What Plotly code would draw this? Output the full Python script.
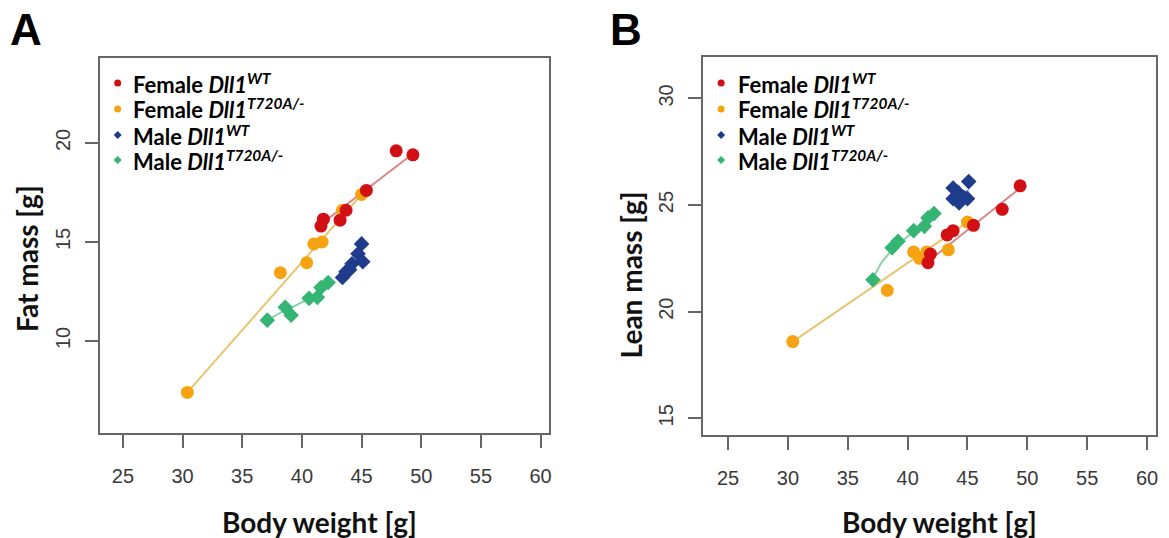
import plotly.graph_objects as go

W, H = 1169, 538

# ---------------- data ----------------
# Panel A: Fat mass vs body weight
fw_bw_A = [41.8, 41.6, 43.2, 43.7, 45.4, 47.9, 49.3]
fw_fat = [16.15, 15.8, 16.1, 16.6, 17.6, 19.6, 19.4]
ft_bw_A = [30.4, 38.2, 40.4, 41.0, 41.7, 43.4, 45.0]
ft_fat = [7.4, 13.45, 13.95, 14.9, 15.0, 16.6, 17.4]
mw_bw_A = [45.0, 44.7, 45.1, 44.2, 43.7, 43.4, 44.0]
mw_fat = [14.9, 14.4, 14.0, 13.9, 13.5, 13.2, 13.6]
mt_bw_A = [37.1, 38.6, 39.1, 40.6, 41.3, 41.6, 42.2]
mt_fat = [11.05, 11.7, 11.3, 12.15, 12.2, 12.7, 12.95]

# smoothed lines (vertices)
fw_fit_x_A = [41.6, 49.3]; fw_fit_y_A = [15.9, 19.45]
ft_fit_x_A = [30.4, 45.0]; ft_fit_y_A = [7.4, 17.4]
mw_fit_x_A = [43.4, 44.2, 45.1]; mw_fit_y_A = [13.2, 13.75, 14.5]
mt_fit_x_A = [37.1, 38.6, 39.5, 40.6, 41.5, 42.2]
mt_fit_y_A = [11.05, 11.55, 11.8, 12.15, 12.5, 12.9]

# Panel B: Lean mass vs body weight
fw_bw_B = [41.7, 41.9, 43.3, 43.8, 45.5, 47.9, 49.4]
fw_lean = [22.3, 22.7, 23.6, 23.8, 24.05, 24.8, 25.9]
ft_bw_B = [30.4, 38.3, 40.5, 41.0, 41.6, 43.4, 45.0]
ft_lean = [18.6, 21.0, 22.8, 22.5, 22.8, 22.9, 24.2]
mw_bw_B = [45.1, 43.8, 44.2, 44.7, 43.8, 44.3, 45.0]
mw_lean = [26.1, 25.8, 25.6, 25.35, 25.3, 25.1, 25.3]
mt_bw_B = [37.1, 38.7, 39.2, 40.5, 41.4, 41.7, 42.2]
mt_lean = [21.5, 23.0, 23.3, 23.8, 24.0, 24.4, 24.6]

fw_fit_x_B = [41.7, 49.4]; fw_fit_y_B = [22.35, 25.8]
ft_fit_x_B = [30.4, 45.0]; ft_fit_y_B = [18.6, 24.2]
mw_fit_x_B = [43.8, 45.1]; mw_fit_y_B = [25.3, 25.7]
mt_fit_x_B = [37.1, 37.8, 38.7, 39.5, 40.5, 41.4, 42.2]
mt_fit_y_B = [21.55, 22.3, 22.9, 23.3, 23.75, 24.1, 24.5]

x_ticks = [25, 30, 35, 40, 45, 50, 55, 60]
y_ticks_A = [10, 15, 20]
y_ticks_B = [15, 20, 25, 30]

group_names = [
    "<b>Female <i>Dll1</i><sup><i>WT</i></sup></b>",
    "<b>Female <i>Dll1</i><sup><i>T720A/-</i></sup></b>",
    "<b>Male <i>Dll1</i><sup><i>WT</i></sup></b>",
    "<b>Male <i>Dll1</i><sup><i>T720A/-</i></sup></b>",
]
marker_colors = ["#d10f14", "#f5a311", "#1f3c8c", "#35b574"]
line_colors = ["#d58a8a", "#e6c56e", "#8d9cc8", "#8ad3a8"]
symbols = ["circle", "circle", "diamond", "diamond"]


def px(x):
    return x / W


def py(y):
    return 1 - y / H


fig = go.Figure()

panels = [
    ("x", "y",
     [(fw_bw_A, fw_fat), (ft_bw_A, ft_fat), (mw_bw_A, mw_fat), (mt_bw_A, mt_fat)],
     [(fw_fit_x_A, fw_fit_y_A), (ft_fit_x_A, ft_fit_y_A), (mw_fit_x_A, mw_fit_y_A), (mt_fit_x_A, mt_fit_y_A)]),
    ("x2", "y2",
     [(fw_bw_B, fw_lean), (ft_bw_B, ft_lean), (mw_bw_B, mw_lean), (mt_bw_B, mt_lean)],
     [(fw_fit_x_B, fw_fit_y_B), (ft_fit_x_B, ft_fit_y_B), (mw_fit_x_B, mw_fit_y_B), (mt_fit_x_B, mt_fit_y_B)]),
]

for xa, ya, pts, fits in panels:
    for i, (fx, fy) in enumerate(fits):
        fig.add_trace(go.Scatter(x=fx, y=fy, xaxis=xa, yaxis=ya, mode="lines",
                                 line=dict(color=line_colors[i], width=2),
                                 showlegend=False, hoverinfo="skip"))
    order = [2, 3, 1, 0]
    for i in order:
        bx, by = pts[i]
        fig.add_trace(go.Scatter(x=bx, y=by, xaxis=xa, yaxis=ya, mode="markers",
                                 marker=dict(symbol=symbols[i], color=marker_colors[i],
                                             size=13 if symbols[i] == "circle" else 12,
                                             line=dict(width=0)),
                                 name=group_names[i], showlegend=False))

tickfont = dict(family="Liberation Sans, Arial, sans-serif", size=20, color="#3a3a3a")
common_x = dict(tickmode="array", tickvals=x_ticks, ticks="outside", ticklen=13,
                tickwidth=2, tickcolor="#666", showline=True, linecolor="#666",
                linewidth=2, mirror=True, showgrid=False, zeroline=False,
                tickfont=tickfont, ticklabelstandoff=11)
common_y = dict(ticks="outside", ticklen=13, tickwidth=2, tickcolor="#666",
                showline=True, linecolor="#666", linewidth=2, mirror=True,
                showgrid=False, zeroline=False, tickfont=tickfont, tickangle=-90,
                ticklabelstandoff=7)

fig.update_layout(
    width=W, height=H, margin=dict(l=0, r=0, t=0, b=0),
    paper_bgcolor="white", plot_bgcolor="white", showlegend=False,
    xaxis=dict(domain=[px(100), px(550)], range=[23.06, 60.67], anchor="y", **common_x),
    yaxis=dict(domain=[py(433), py(58)], range=[5.35, 24.29], anchor="x",
               tickmode="array", tickvals=y_ticks_A, **common_y),
    xaxis2=dict(domain=[px(705), px(1159)], range=[22.92, 60.75], anchor="y2", **common_x),
    yaxis2=dict(domain=[py(435), py(57)], range=[14.22, 31.94], anchor="x2",
                tickmode="array", tickvals=y_ticks_B, **common_y),
)

title_font = dict(family="Lato, Open Sans, sans-serif", size=28, color="#111")
ann = []


def label(text, x, y, font, angle=0):
    ann.append(dict(text=text, x=px(x), y=py(y), xref="paper", yref="paper",
                    xanchor="center", yanchor="middle", showarrow=False,
                    textangle=angle, font=font))


letter_font = dict(family="Liberation Sans, Arial", size=44, color="black")
label("<b>A</b>", 26, 30, letter_font)
label("<b>B</b>", 628, 30, letter_font)
label("<b>Body weight [g]</b>", 320, 522, title_font)
label("<b>Body weight [g]</b>", 942, 522, title_font)
label("<b>Fat mass [g]</b>", 27, 258, title_font, -90)
label("<b>Lean mass [g]</b>", 633, 275, title_font, -90)

shapes = []
legend_rows = [83, 109, 135, 160]
legend_font = dict(family="Lato, Open Sans, sans-serif", size=22, color="black")
for mx, tx in [(118, 131), (723, 738)]:
    for i, ry in enumerate(legend_rows):
        ann.append(dict(text=group_names[i], x=px(tx), y=py(ry), xref="paper", yref="paper",
                        xanchor="left", yanchor="middle", showarrow=False, font=legend_font))
        r = 3.5
        if symbols[i] == "circle":
            shapes.append(dict(type="circle", xref="paper", yref="paper",
                               x0=px(mx - r), x1=px(mx + r), y0=py(ry + r), y1=py(ry - r),
                               fillcolor=marker_colors[i], line=dict(width=0)))
        else:
            d = 4
            path = (f"M {px(mx)} {py(ry - d)} L {px(mx + d)} {py(ry)} "
                    f"L {px(mx)} {py(ry + d)} L {px(mx - d)} {py(ry)} Z")
            shapes.append(dict(type="path", xref="paper", yref="paper", path=path,
                               fillcolor=marker_colors[i], line=dict(width=0)))

fig.update_layout(annotations=ann, shapes=shapes)
fig.write_html("out.html")
